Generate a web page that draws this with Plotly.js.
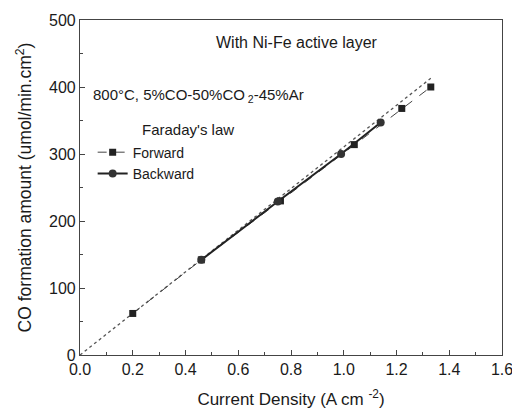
<!DOCTYPE html>
<html><head><meta charset="utf-8">
<script src="https://cdn.plot.ly/plotly-3.0.1.min.js"></script>
<style>body{margin:0;background:#fff}#c{width:512px;height:412px}</style>
</head><body><div id="c"></div>
<script>
const faradayX = [0, 1.33];
const faradayY = [0, 413];
const forwardX = [0.2, 0.46, 0.76, 1.04, 1.22, 1.33];
const forwardY = [62, 142, 230, 314, 368, 400];
const backwardX = [1.14, 0.99, 0.75, 0.46];
const backwardY = [347, 300, 229, 142];
const xTicks = [0, 0.2, 0.4, 0.6, 0.8, 1.0, 1.2, 1.4, 1.6];
const xTickText = ['0.0','0.2','0.4','0.6','0.8','1.0','1.2','1.4','1.6'];
const yTicks = [0, 100, 200, 300, 400, 500];

const font = {family: 'Liberation Sans, Arial, sans-serif', color: '#1a1a1a'};
const f = s => Object.assign({size: s}, font);
const traces = [
  {x: faradayX, y: faradayY, mode: 'lines', name: "Faraday's law", showlegend: false,
   line: {color: '#555', width: 1.3, dash: 'dot'}},
  {x: forwardX, y: forwardY, mode: 'lines+markers', name: 'Forward',
   line: {color: '#444', width: 1, dash: 'dash'}, marker: {symbol: 'square', size: 7, color: '#222'}},
  {x: backwardX, y: backwardY, mode: 'lines+markers', name: 'Backward',
   line: {color: '#222', width: 2}, marker: {symbol: 'circle', size: 8, color: '#333'}}
];
const layout = {
  width: 512, height: 412,
  margin: {l: 80, r: 10, t: 20, b: 57},
  paper_bgcolor: '#fff', plot_bgcolor: '#fff',
  font: f(15),
  showlegend: true,
  legend: {x: 0.03, y: 0.652, xanchor: 'left', yanchor: 'top', bgcolor: 'rgba(0,0,0,0)',
    font: f(14), tracegroupgap: 0, itemwidth: 30},
  xaxis: {range: [0, 1.6], tickvals: xTicks, ticktext: xTickText, ticks: 'inside', ticklen: 5,
    ticklabeloverflow: 'allow',
    showline: true, mirror: true, linecolor: '#444', linewidth: 1.2, showgrid: false, zeroline: false,
    tickcolor: '#444', tickfont: f(16),
    minor: {dtick: 0.1, ticks: 'inside', ticklen: 3, tickcolor: '#444', showgrid: false},
    title: {text: 'Current Density (A cm <sup>-2</sup>)', font: f(17), standoff: 15}},
  yaxis: {range: [0, 500], tickvals: yTicks, ticks: 'inside', ticklen: 5,
    showline: true, mirror: true, linecolor: '#444', linewidth: 1.2, showgrid: false, zeroline: false,
    tickcolor: '#444', tickfont: f(16),
    minor: {dtick: 50, ticks: 'inside', ticklen: 3, tickcolor: '#444', showgrid: false},
    title: {text: 'CO formation amount (umol/min.cm<sup>2</sup>)', font: f(17.5), standoff: 12}},
  annotations: [
    {text: 'With Ni-Fe active layer', x: 0.514, y: 0.934, xref: 'paper', yref: 'paper',
     showarrow: false, xanchor: 'center', yanchor: 'middle', font: f(16)},
    {text: '800°C, 5%CO-50%CO<sub> 2</sub>-45%Ar', x: 0.025, y: 0.776, xref: 'paper', yref: 'paper',
     showarrow: false, xanchor: 'left', yanchor: 'middle', font: f(15)},
    {text: "Faraday's law", x: 0.142, y: 0.672, xref: 'paper', yref: 'paper',
     showarrow: false, xanchor: 'left', yanchor: 'middle', font: f(15)}
  ]
};
Plotly.newPlot('c', traces, layout, {displayModeBar: false});
</script></body></html>
